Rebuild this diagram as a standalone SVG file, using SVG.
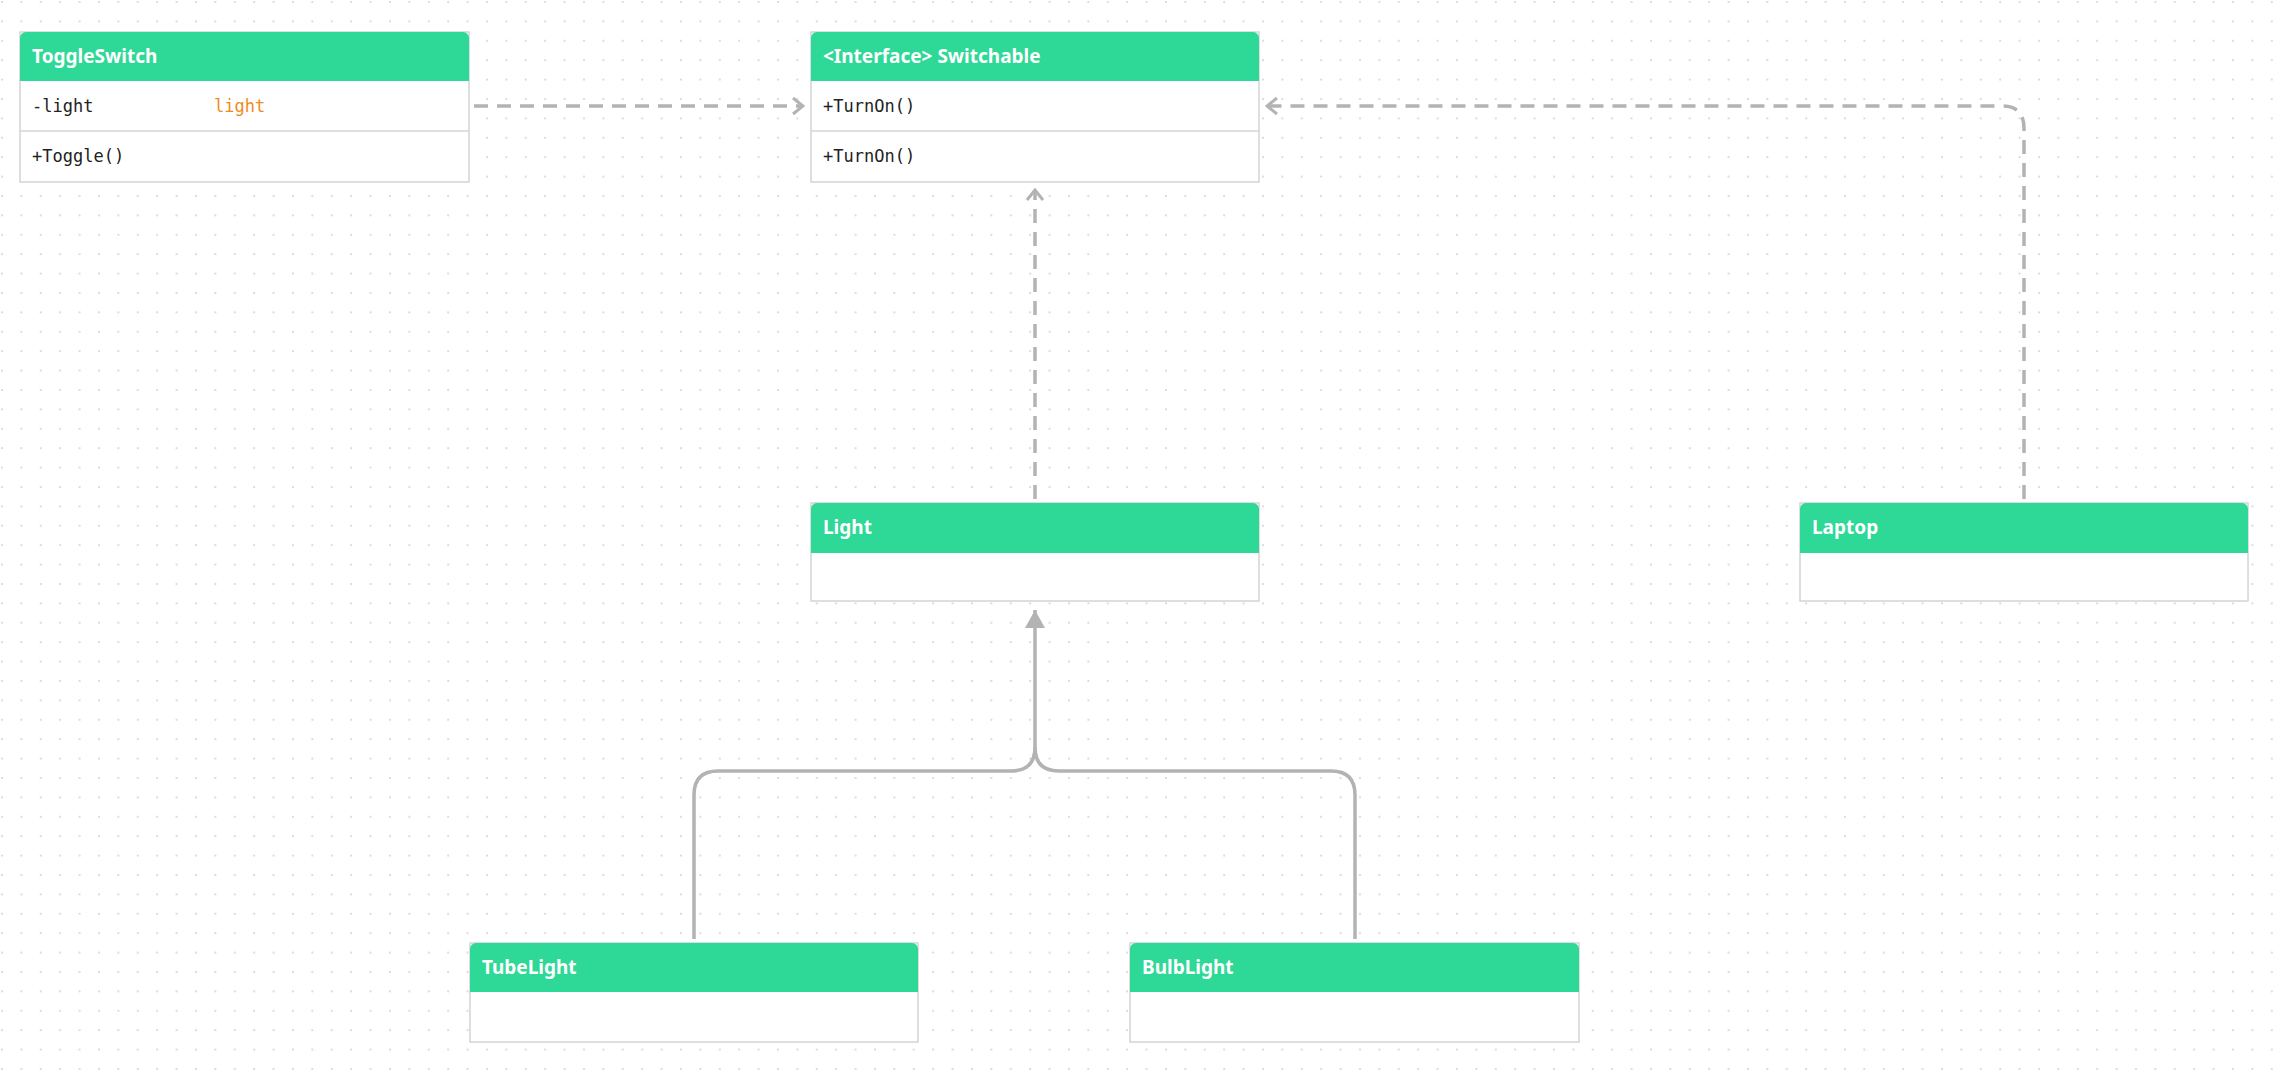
<svg xmlns="http://www.w3.org/2000/svg" width="2282" height="1073" viewBox="0 0 2282 1073">
<style>
.hdr{fill:#2ed897}
.body{fill:#fff;stroke:#d4d4d4;stroke-width:1.5}
.title{font-family:"Noto Sans","Liberation Sans",sans-serif;font-weight:bold;font-size:19px;fill:#fff}
.mem{font-family:"DejaVu Sans Mono","Liberation Mono",monospace;font-size:17px;fill:#222}
.div{stroke:#d4d4d4;stroke-width:1.5}
.c{fill:none;stroke:#b3b3b3;stroke-width:3.5}
.d{stroke-dasharray:14 9}
</style>
<defs>
<pattern id="dots" width="19.4" height="19.4" patternUnits="userSpaceOnUse"><circle cx="2" cy="2" r="1.1" fill="#d6d6d6"/></pattern>
<marker id="open" markerWidth="14" markerHeight="20" refX="12" refY="10" orient="auto" markerUnits="userSpaceOnUse"><path d="M2,2 L12,10 L2,18" fill="none" stroke="#b3b3b3" stroke-width="3"/></marker>
<marker id="tri" markerWidth="20" markerHeight="20" refX="18" refY="10" orient="auto" markerUnits="userSpaceOnUse"><path d="M0,0 L18,10 L0,20 Z" fill="#b3b3b3"/></marker>
</defs>
<rect width="2282" height="1073" fill="#fff"/>
<rect width="2282" height="1073" fill="url(#dots)"/>
<g id="connectors">
<path class="c d" d="M474,106 L803,106" marker-end="url(#open)"/>
<path class="c d" d="M1035,499 L1035,190" marker-end="url(#open)"/>
<path class="c d" d="M2024,499 L2024,128 Q2024,106 2002,106 L1267,106" marker-end="url(#open)"/>
<path class="c" d="M694,939 L694,795 Q694,771 718,771 L1011,771 Q1035,771 1035,747 L1035,610" marker-end="url(#tri)"/>
<path class="c" d="M1355,939 L1355,795 Q1355,771 1331,771 L1059,771 Q1035,771 1035,747"/>
</g>
<g id="ToggleSwitch">
<rect class="body" x="20" y="32" width="449" height="150"/>
<path class="hdr" d="M20,81 V38 a6,6 0 0 1 6,-6 H463 a6,6 0 0 1 6,6 V81 Z"/>
<line class="div" x1="20" y1="131" x2="469" y2="131"/>
<text class="title" x="32" y="63">ToggleSwitch</text>
<text class="mem" x="32" y="112">-light</text>
<text class="mem" x="214" y="112" style="fill:#f08a24">light</text>
<text class="mem" x="32" y="162">+Toggle()</text>
</g>
<g id="Switchable">
<rect class="body" x="811" y="32" width="448" height="150"/>
<path class="hdr" d="M811,81 V38 a6,6 0 0 1 6,-6 H1253 a6,6 0 0 1 6,6 V81 Z"/>
<line class="div" x1="811" y1="131" x2="1259" y2="131"/>
<text class="title" x="823" y="63">&lt;Interface&gt; Switchable</text>
<text class="mem" x="823" y="112">+TurnOn()</text>
<text class="mem" x="823" y="162">+TurnOn()</text>
</g>
<g id="Light">
<rect class="body" x="811" y="503" width="448" height="98"/>
<path class="hdr" d="M811,553 V509 a6,6 0 0 1 6,-6 H1253 a6,6 0 0 1 6,6 V553 Z"/>
<text class="title" x="823" y="534">Light</text>
</g>
<g id="Laptop">
<rect class="body" x="1800" y="503" width="448" height="98"/>
<path class="hdr" d="M1800,553 V509 a6,6 0 0 1 6,-6 H2242 a6,6 0 0 1 6,6 V553 Z"/>
<text class="title" x="1812" y="534">Laptop</text>
</g>
<g id="TubeLight">
<rect class="body" x="470" y="943" width="448" height="99"/>
<path class="hdr" d="M470,992 V949 a6,6 0 0 1 6,-6 H912 a6,6 0 0 1 6,6 V992 Z"/>
<text class="title" x="482" y="974">TubeLight</text>
</g>
<g id="BulbLight">
<rect class="body" x="1130" y="943" width="449" height="99"/>
<path class="hdr" d="M1130,992 V949 a6,6 0 0 1 6,-6 H1573 a6,6 0 0 1 6,6 V992 Z"/>
<text class="title" x="1142" y="974">BulbLight</text>
</g>
</svg>
